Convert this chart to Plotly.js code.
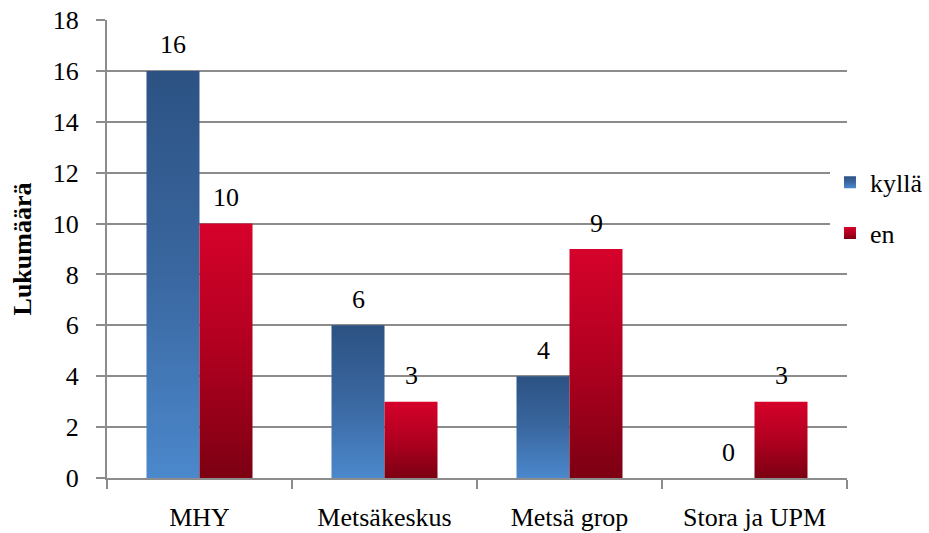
<!DOCTYPE html>
<html>
<head>
<meta charset="utf-8">
<script src="https://cdn.plot.ly/plotly-3.0.1.min.js"></script>
<style>
html,body{margin:0;padding:0;background:#fff;}
#chart{width:929px;height:533px;}
</style>
</head>
<body>
<div id="chart"></div>
<script>
const categories = ["MHY", "Metsäkeskus", "Metsä grop", "Stora ja UPM"];
const kylla = [16, 6, 4, 0];
const en = [10, 3, 9, 3];
const seriesNames = ["kyllä", "en"];
const yTicks = [0, 2, 4, 6, 8, 10, 12, 14, 16, 18];

const FAMILY = '"Liberation Serif", serif';
const F = {family: FAMILY, size: 26, color: "#000", weight: 500};
const GRID = "#8c8c8c";

const traces = [
  {type: "bar", name: seriesNames[0], x: categories, y: kylla,
   marker: {color: "#3c6aa3"}, legendgroup: "a", hoverinfo: "none"},
  {type: "bar", name: seriesNames[1], x: categories, y: en,
   marker: {color: "#b0001f"}, legendgroup: "b", hoverinfo: "none"}
];

const annotations = [];
[kylla, en].forEach((vals, si) => {
  vals.forEach((v, i) => {
    annotations.push({
      x: categories[i], y: v, xref: "x", yref: "y",
      text: String(v), showarrow: false,
      xshift: si === 0 ? -26.5 : 26.5, yshift: 26,
      yanchor: "middle", xanchor: "center", font: F
    });
  });
});

const layout = {
  width: 929, height: 533,
  margin: {l: 107, r: 82, t: 20, b: 55, pad: 0, autoexpand: false},
  paper_bgcolor: "#fff", plot_bgcolor: "#fff",
  font: F,
  barmode: "group", bargap: 0.427, bargroupgap: 0,
  legend: {x: 0.977, xanchor: "left", y: 0.59, yanchor: "middle", tracegroupgap: 14, font: F},
  xaxis: {
    type: "category", tickson: "boundaries", ticks: "outside", ticklen: 9,
    tickcolor: GRID, tickwidth: 2, showline: true, linecolor: GRID, linewidth: 2,
    showgrid: false, zeroline: false, ticklabelstandoff: 15, tickfont: F
  },
  yaxis: {
    range: [0, 18], tickvals: yTicks,
    ticks: "outside", ticklen: 9, tickcolor: GRID, tickwidth: 2,
    showline: true, linecolor: GRID, linewidth: 2,
    showgrid: true, gridcolor: GRID, gridwidth: 2, zeroline: false,
    ticklabelstandoff: 12, tickfont: F,
    title: {text: "<b>Lukumäärä</b>", font: {family: FAMILY, size: 26, color: "#000", weight: 700}, standoff: 14}
  },
  annotations: annotations
};

function applyGradients(gd) {
  const svg = gd.querySelector(".main-svg");
  const ns = "http://www.w3.org/2000/svg";
  const defs = document.createElementNS(ns, "defs");
  function grad(id, stops) {
    const g = document.createElementNS(ns, "linearGradient");
    g.setAttribute("id", id);
    g.setAttribute("x1", "0"); g.setAttribute("y1", "0");
    g.setAttribute("x2", "0"); g.setAttribute("y2", "1");
    stops.forEach(s => {
      const st = document.createElementNS(ns, "stop");
      st.setAttribute("offset", s[0]);
      st.setAttribute("stop-color", s[1]);
      g.appendChild(st);
    });
    defs.appendChild(g);
  }
  grad("gBlue", [["0", "#2c5283"], ["0.5", "#3a67a0"], ["1", "#4b88cc"]]);
  grad("gRed", [["0", "#d6022b"], ["0.5", "#b00020"], ["1", "#7c0012"]]);
  svg.appendChild(defs);
  const ids = ["gBlue", "gRed"];
  gd.querySelectorAll(".trace.bars").forEach((t, i) => {
    t.querySelectorAll("path").forEach(p => { p.style.fill = "url(#" + ids[i] + ")"; });
  });
  gd.querySelectorAll(".main-svg").forEach(s => {
    s.querySelectorAll(".legend .traces").forEach((t, i) => {
      t.querySelectorAll(".legendpoints path").forEach(p => { p.style.fill = "url(#" + ids[i] + ")"; });
    });
  });
}

Plotly.newPlot("chart", traces, layout, {displayModeBar: false}).then(applyGradients);
</script>
</body>
</html>
